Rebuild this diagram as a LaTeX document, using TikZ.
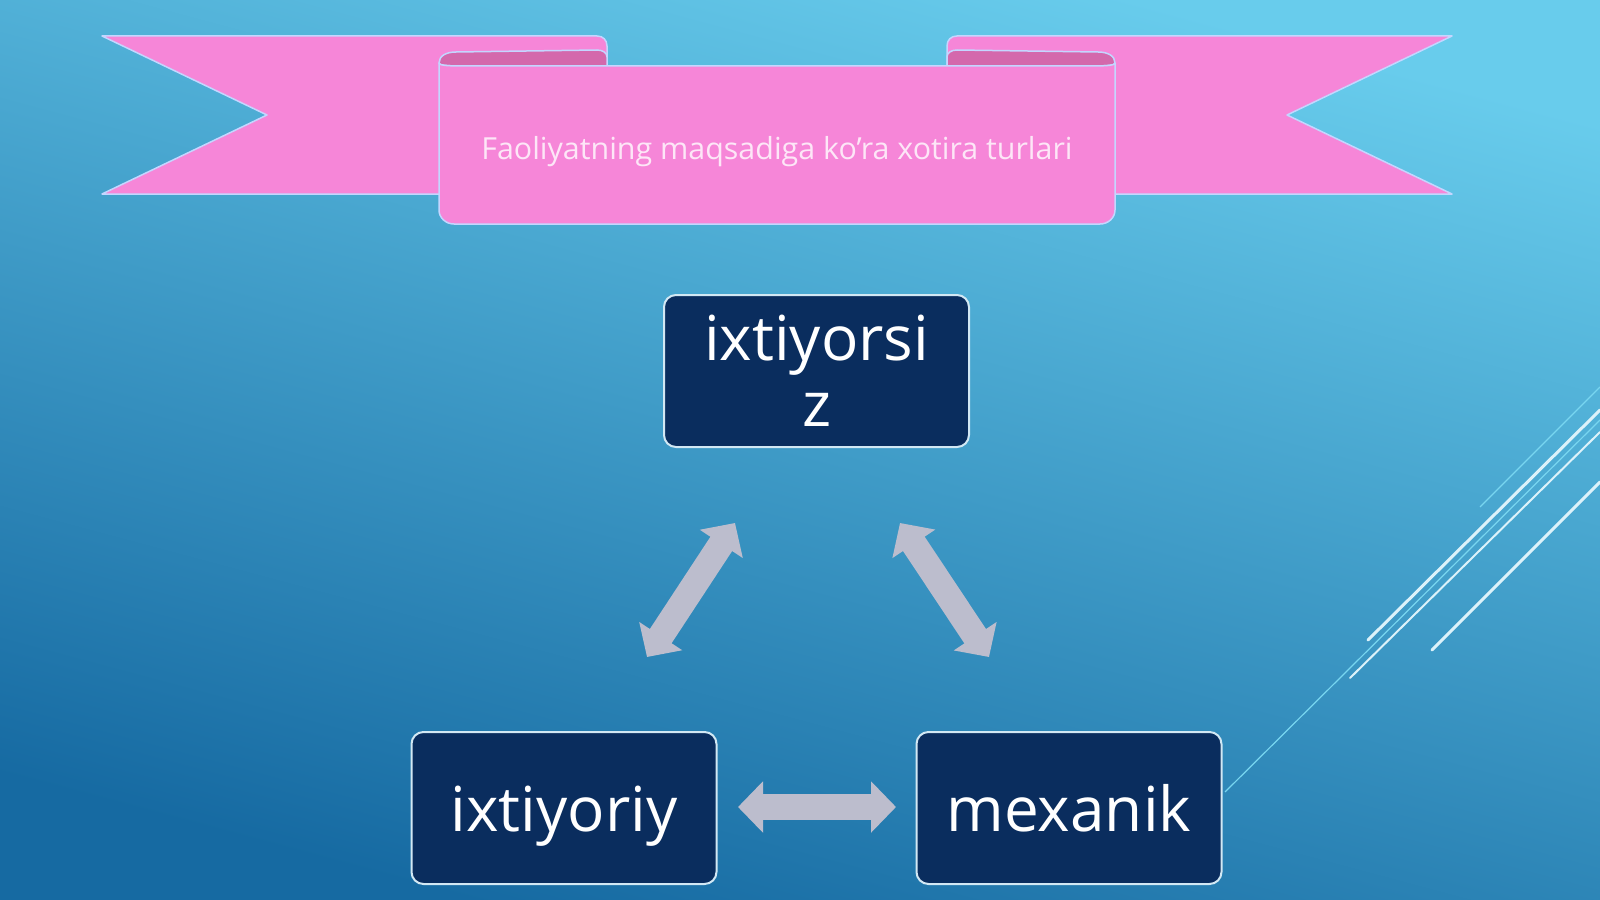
\documentclass[tikz,border=0pt]{standalone}
\usepackage{fontspec}
\setmainfont{Open Sans}
\usetikzlibrary{arrows.meta}
\definecolor{bgtop}{RGB}{104,204,236}
\definecolor{bgbot}{RGB}{22,106,162}
\definecolor{ribpink}{RGB}{246,134,216}
\definecolor{ribdark}{RGB}{212,104,172}
\definecolor{ribline}{RGB}{196,214,255}
\definecolor{boxfill}{RGB}{10,45,94}
\definecolor{boxline}{RGB}{210,232,244}
\definecolor{arrgrey}{RGB}{188,189,205}
\definecolor{titlecol}{RGB}{253,230,247}
\definecolor{decoA}{RGB}{120,214,240}
\definecolor{decoB}{RGB}{220,242,250}
\begin{document}
\begin{tikzpicture}[x=0.5pt,y=-0.5pt,
  ribbon/.style={fill=ribpink,draw=ribline,line width=0.75pt,line join=round},
  fold/.style={fill=ribdark,draw=ribline,line width=0.75pt,line join=round},
  memobox/.style={rectangle,rounded corners=6pt,fill=boxfill,draw=boxline,line width=1pt,
    minimum width=152.5pt,minimum height=76pt,text=white,align=center,
    font=\fontsize{31}{33}\selectfont,inner sep=0pt},
  oneline/.style={text height=23.5pt,text depth=0pt},
  dblarrow/.style={draw=arrgrey,line width=13pt,
    {Triangle[length=12.5pt,width=25pt]}-{Triangle[length=12.5pt,width=25pt]}},
  decothin/.style={draw=decoA,line width=0.6pt},
  decothick/.style={draw=decoB,line width=1.5pt,line cap=round},
  decomid/.style={draw=decoB,line width=1pt,line cap=round}]
\useasboundingbox (0,0) rectangle (1600,899);
\shade[top color=bgtop,bottom color=bgbot,shading angle=-15] (0,0) rectangle (1600,899);
% decorative lines
\draw[decothin] (1480,507) -- (1600,387);
\draw[decothick] (1368,640) -- (1600,410);
\draw[decomid] (1350,678) -- (1600,432);
\draw[decothin] (1225,792) -- (1600,420);
\draw[decothick] (1432,650) -- (1600,482);
% ribbon tails
\path[ribbon] (102,36) -- (597,36) .. controls (603,36) and (607,40) .. (607,46) -- (607,194) -- (102,194) -- (267,115) -- cycle;
\path[ribbon] (1452,36) -- (957,36) .. controls (951,36) and (947,40) .. (947,46) -- (947,194) -- (1452,194) -- (1287,115) -- cycle;
% folds
\path[fold] (439,63) .. controls (439,56) and (446,52) .. (456,52) -- (597,50) .. controls (603,50) and (607,53) .. (607,57) -- (607,66) -- (470,66) .. controls (452,66) and (439,66) .. (439,63) -- cycle;
\path[fold] (1115,63) .. controls (1115,56) and (1108,52) .. (1098,52) -- (957,50) .. controls (951,50) and (947,53) .. (947,57) -- (947,66) -- (1084,66) .. controls (1102,66) and (1115,66) .. (1115,63) -- cycle;
% front panel
\path[ribbon] (439,63) .. controls (439,66) and (452,66) .. (470,66) -- (1084,66) .. controls (1102,66) and (1115,66) .. (1115,63) -- (1115,210) .. controls (1115,218) and (1108,224) .. (1100,224) -- (454,224) .. controls (446,224) and (439,218) .. (439,210) -- cycle;
\node[text=titlecol,font=\fontsize{15.2}{18}\selectfont] (title) at (777,152) {Faoliyatning maqsadiga ko’ra xotira turlari};
% boxes
\node[memobox] (top) at (816.5,371) {ixtiyorsi\\z};
\node[memobox,oneline] (left) at (564,808) {ixtiyoriy};
\node[memobox,oneline] (right) at (1069,808) {mexanik};
% arrows
\coordinate (a1s) at (735,523);
\coordinate (a1e) at (647,657);
\coordinate (a2s) at (900,523);
\coordinate (a2e) at (989,657);
\coordinate (a3s) at (738,807);
\coordinate (a3e) at (896,807);
\draw[dblarrow] (a1s) -- (a1e);
\draw[dblarrow] (a2s) -- (a2e);
\draw[dblarrow] (a3s) -- (a3e);
\end{tikzpicture}
\end{document}
